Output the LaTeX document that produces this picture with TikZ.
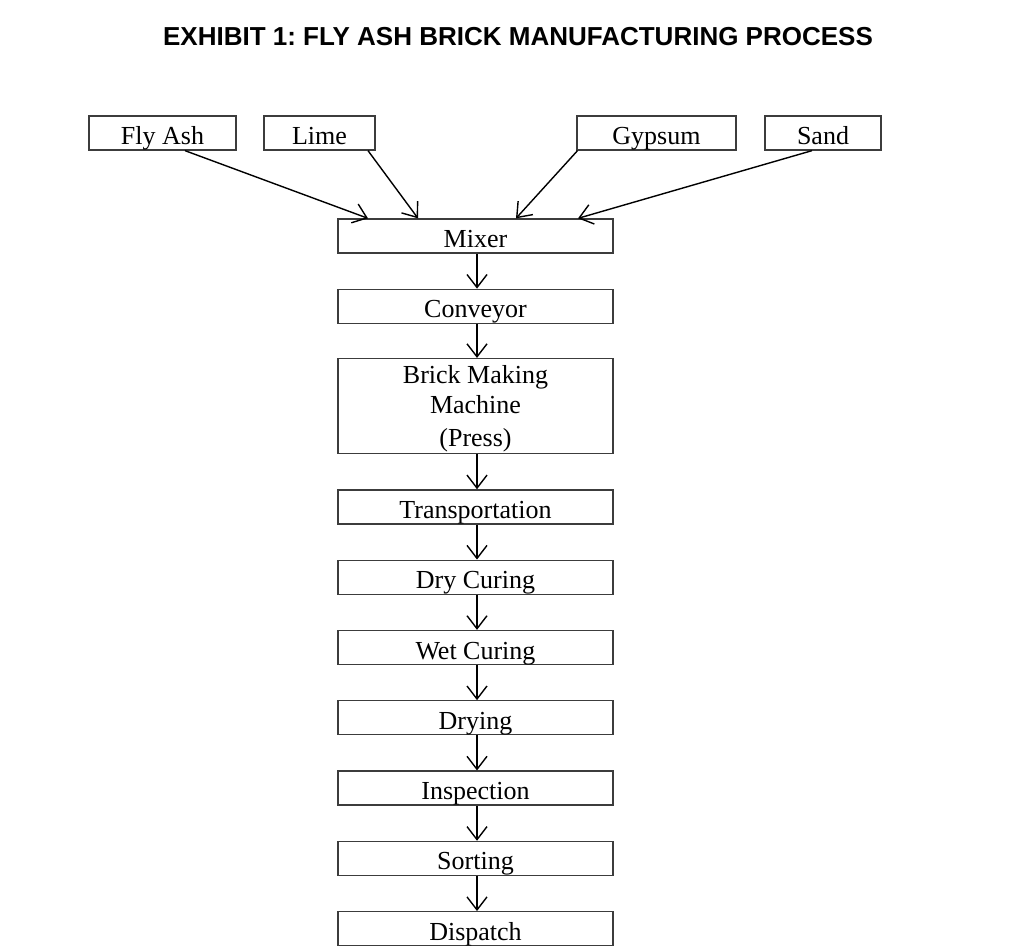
\documentclass[tikz,border=0pt]{standalone}
\usepackage{fontspec}
\setmainfont{Liberation Serif}
\newfontfamily\titlefont{Liberation Sans}
\usetikzlibrary{arrows.meta,positioning}
\definecolor{boxgray}{RGB}{60,60,60}
\frenchspacing

\begin{document}
\begin{tikzpicture}[x=1pt,y=-1pt,
  font=\fontsize{26}{30}\selectfont,
  frame/.style={draw=boxgray,line width=1.3pt,inner sep=0pt,align=center},
  box/.style={frame,minimum height=34pt,text height=23pt,text depth=0pt},
  sbox/.style={box,minimum width=275pt},
  arr/.style={-{Straight Barb[length=13pt,width=20pt]},line width=1.4pt},
  ]
  \useasboundingbox[fill=white] (0,0) rectangle (1024,949);
  \node[font=\titlefont\bfseries\fontsize{26}{30}\selectfont] (title) at (518,37) {EXHIBIT 1: FLY ASH BRICK MANUFACTURING PROCESS};
  % raw materials
  \node[box,minimum width=147pt] (flyash) at (162.5,133) {Fly Ash};
  \node[box,minimum width=111pt] (lime) at (319.5,133) {Lime};
  \node[box,minimum width=159pt] (gypsum) at (656.5,133) {Gypsum};
  \node[box,minimum width=116pt] (sand) at (823,133) {Sand};
  % process chain
  \node[sbox] (mixer) at (475.5,236) {Mixer};
  \node[sbox,below=35pt of mixer] (conv) {Conveyor};
  \node[frame,minimum width=275pt,below=34pt of conv,minimum height=95pt] (press) {\rule{0pt}{24pt}Brick Making\\Machine\\[3pt](Press)};
  \node[sbox,below=35pt of press] (trans) {Transportation};
  \node[sbox,below=35pt of trans] (dry) {Dry Curing};
  \node[sbox,below=35pt of dry] (wet) {Wet Curing};
  \node[sbox,below=35pt of wet] (drying) {Drying};
  \node[sbox,below=35pt of drying] (insp) {Inspection};
  \node[sbox,below=35pt of insp] (sort) {Sorting};
  \node[sbox,below=35pt of sort] (disp) {Dispatch};
  \draw[arr] ([xshift=22.5pt]flyash.south) -- ([xshift=-107.5pt]mixer.north);
  \draw[arr] ([xshift=48.5pt]lime.south) -- ([xshift=-57.5pt]mixer.north);
  \draw[arr] ([xshift=-79pt]gypsum.south) -- ([xshift=40.5pt]mixer.north);
  \draw[arr] ([xshift=-11pt]sand.south) -- ([xshift=102.5pt]mixer.north);
  \foreach \a/\b in {mixer/conv,conv/press,press/trans,trans/dry,dry/wet,wet/drying,drying/insp,insp/sort,sort/disp}
    \draw[arr] ([xshift=1.5pt]\a.south) -- ([xshift=1.5pt]\b.north);
\end{tikzpicture}
\end{document}
